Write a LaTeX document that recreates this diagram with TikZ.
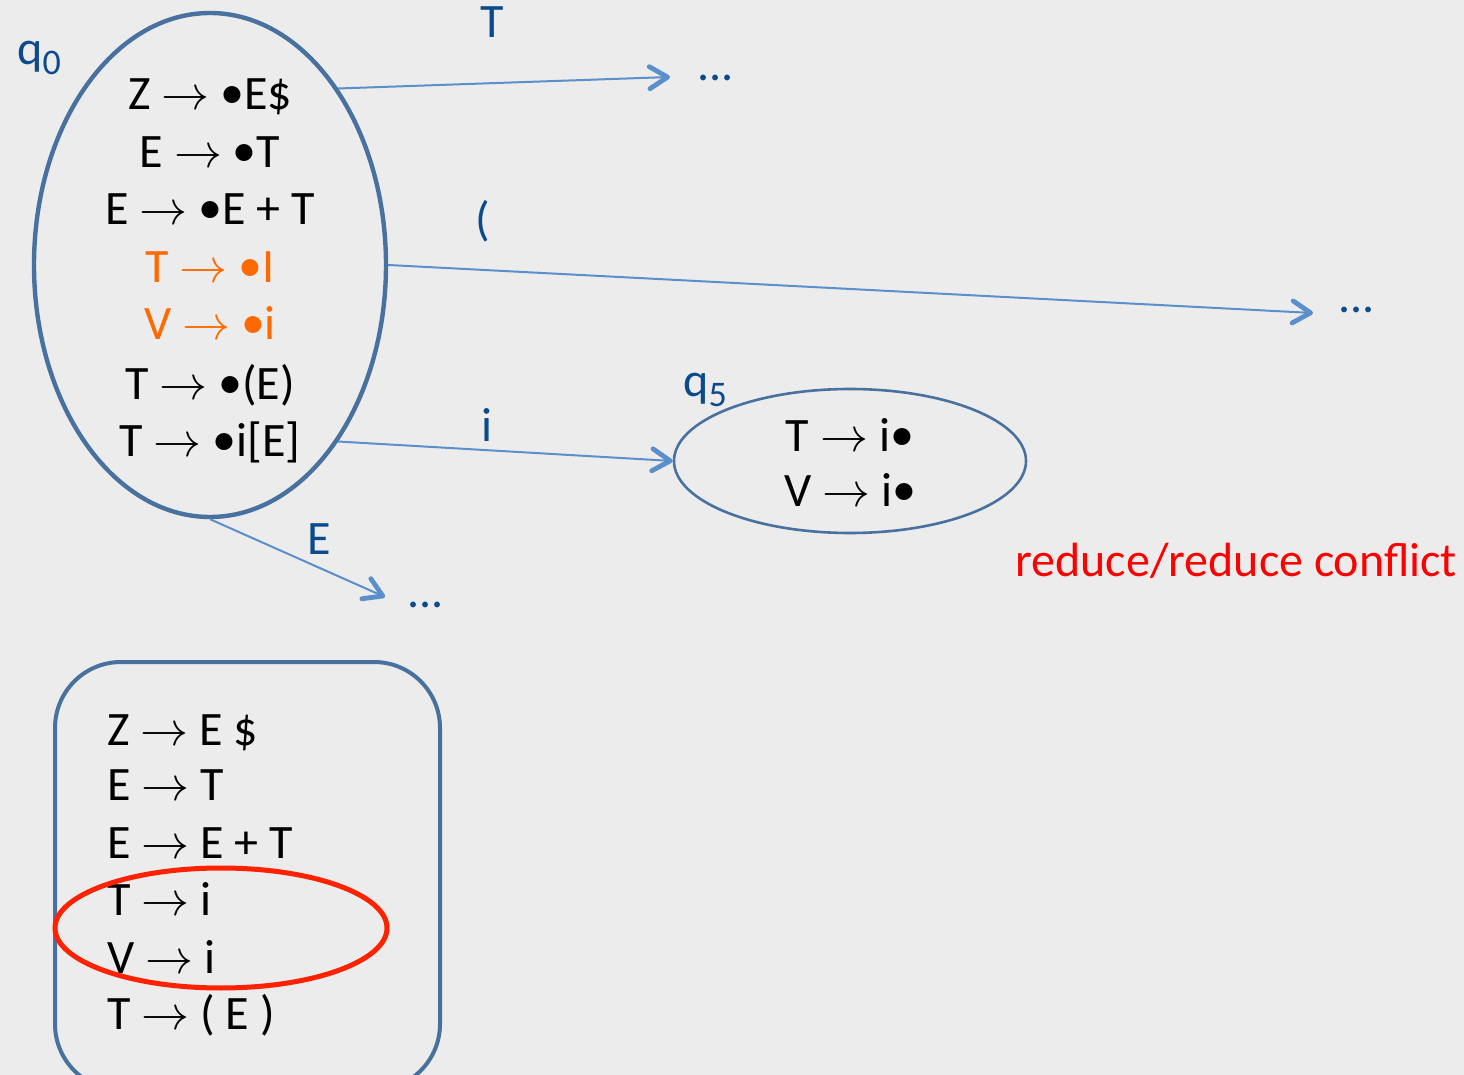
\RequirePackage{fix-cm}
\documentclass[tikz,border=0pt]{standalone}
\usepackage{fontspec}
\setmainfont{Carlito}
\usetikzlibrary{shapes.geometric,arrows.meta}

\definecolor{bgcol}{HTML}{ECECEC}
\definecolor{statecol}{HTML}{48719F}
\definecolor{edgecol}{HTML}{5B8FCB}
\definecolor{labcol}{HTML}{0B4A8C}
\definecolor{itemorange}{HTML}{FF6A00}
\definecolor{conflictred}{HTML}{FF0000}
\definecolor{ringred}{HTML}{FF2200}

\newcommand{\arr}{$\rightarrow$}
\newcommand{\dotb}{\raisebox{0.05ex}{•}}

\tikzset{
  x=0.5pt, y=-0.5pt,
  prod/.style={font=\fontsize{24}{29}\selectfont, inner sep=0pt, anchor=base},
  prodleft/.style={prod, anchor=base west},
  edgelab/.style={font=\fontsize{24}{29}\selectfont, text=labcol, inner sep=0pt, anchor=base},
  more/.style={font=\fontsize{24}{29}\selectfont, text=labcol, inner sep=0pt, anchor=base west},
  trans/.style={draw=edgecol, line width=1pt,
    -{Straight Barb[length=9pt, width=11pt, line width=2.4pt, round]}},
}

\begin{document}
\begin{tikzpicture}
  % background and page frame
  \fill[bgcol] (0,0) rectangle (1464,1075);
  \useasboundingbox (0,0) rectangle (1464,1075);

  % state q0
  \node[ellipse, draw=statecol, line width=2.2pt, minimum width=176pt,
        minimum height=252pt, inner sep=0pt] (q0) at (210,265) {};
  \node[edgelab, anchor=base west] (q0lab) at (17,65) {q\raisebox{-0.4ex}{\fontsize{18}{22}\selectfont 0}};
  \node[prod] (i1) at (210,110) {Z \arr{} \dotb E\$};
  \node[prod] (i2) at (210,168) {E \arr{} \dotb T};
  \node[prod] (i3) at (210,225) {E \arr{} \dotb E + T};
  \node[prod, text=itemorange] (i4) at (210,283) {T \textcolor{itemorange}{\arr} \dotb I};
  \node[prod, text=itemorange] (i5) at (210,340) {V \textcolor{itemorange}{\arr} \dotb i};
  \node[prod] (i6) at (210,400) {T \arr{} \dotb(E)};
  \node[prod] (i7) at (210,457) {T \arr{} \dotb i[E]};

  % state q5
  \node[ellipse, draw=statecol, line width=1.3pt, minimum width=176pt,
        minimum height=72pt, inner sep=0pt] (q5) at (850,461) {};
  \node[edgelab, anchor=base west] (q5lab) at (683,397) {q\raisebox{-0.4ex}{\fontsize{18}{22}\selectfont 5}};
  \node[prod] (j1) at (850,452) {T \arr{} i\dotb};
  \node[prod] (j2) at (850,507) {V \arr{} i\dotb};

  % transition targets
  \coordinate (tT) at (670,77);
  \coordinate (tP) at (1313,313);
  \coordinate (tE) at (385,597);
  \node[more] (dT) at (697,81) {...};
  \node[more] (dP) at (1338,313) {...};
  \node[more] (dE) at (407,608) {...};

  % transitions
  \draw[trans] (q0.54) -- (tT);
  \draw[trans] (q0.east) -- (tP);
  \draw[trans] (q0.-54) -- (q5.west);
  \draw[trans] (q0.south) -- (tE);

  \node[edgelab] (lT) at (492,38) {T};
  \node[edgelab] (lP) at (483,236) {(};
  \node[edgelab] (li) at (487,442) {i};
  \node[edgelab] (lE) at (319,555) {E};

  \node[font=\fontsize{24}{29}\selectfont, text=conflictred, inner sep=0pt,
        anchor=base west] (conf) at (1015,577) {reduce/reduce conflict};

  % grammar box
  \draw[statecol, line width=2pt, rounded corners=33pt] (55,662) rectangle (440,1090);
  \node[prodleft] (g1) at (107,745) {Z \arr{} E \$};
  \node[prodleft] (g2) at (107,800) {E \arr{} T};
  \node[prodleft] (g3) at (107,858) {E \arr{} E + T};
  \node[prodleft] (g4) at (107,915) {T \arr{} i};
  \node[prodleft] (g5) at (107,973) {V \arr{} i};
  \node[prodleft] (g6) at (107,1029) {T \arr{} ( E )};

  % conflicting rules
  \node[ellipse, draw=ringred, line width=2.5pt, minimum width=166pt,
        minimum height=60pt, inner sep=0pt] (ring) at (221,928) {};
\end{tikzpicture}
\end{document}
